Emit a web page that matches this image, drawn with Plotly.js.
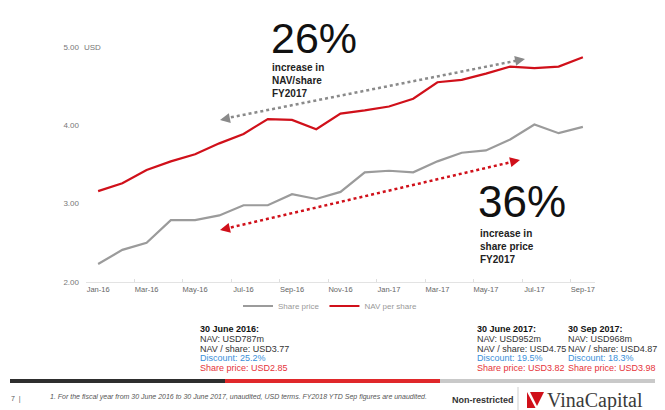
<!DOCTYPE html>
<html><head><meta charset="utf-8">
<script src="https://cdn.plot.ly/plotly-3.0.1.min.js"></script>
<style>html,body{margin:0;padding:0;background:#fff;} #chart{width:665px;height:410px;}</style>
</head><body><div id="chart"></div>
<script>
// ---- data ----
const months = ['Jan-16','Feb-16','Mar-16','Apr-16','May-16','Jun-16','Jul-16','Aug-16','Sep-16','Oct-16','Nov-16','Dec-16','Jan-17','Feb-17','Mar-17','Apr-17','May-17','Jun-17','Jul-17','Aug-17','Sep-17'];
const sharePrice = [2.23,2.41,2.50,2.79,2.79,2.85,2.98,2.98,3.12,3.06,3.15,3.40,3.42,3.40,3.54,3.65,3.68,3.82,4.01,3.90,3.98];
const navPerShare = [3.16,3.26,3.43,3.54,3.63,3.77,3.89,4.08,4.07,3.95,4.15,4.19,4.24,4.34,4.55,4.58,4.66,4.75,4.73,4.75,4.87];
const xTickLabels = ['Jan-16','Mar-16','May-16','Jul-16','Sep-16','Nov-16','Jan-17','Mar-17','May-17','Jul-17','Sep-17'];
const yTickVals = [2,3,4,5];
const seriesNames = ['Share price','NAV per share'];
const navGrowth = '26%';
const priceGrowth = '36%';
const navGrowthText = ['increase in','NAV/share','FY2017'];
const priceGrowthText = ['increase in','share price','FY2017'];
const block2016 = ['30 June 2016:','NAV: USD787m','NAV / share: USD3.77','Discount: 25.2%','Share price: USD2.85'];
const block2017 = ['30 June 2017:','NAV: USD952m','NAV / share: USD4.75','Discount: 19.5%','Share price: USD3.82'];
const blockSep17 = ['30 Sep 2017:','NAV: USD968m','NAV / share: USD4.87','Discount: 18.3%','Share price: USD3.98'];
const footnote = '1. For the fiscal year from 30 June 2016 to 30 June 2017, unaudited, USD terms. FY2018 YTD Sep figures are unaudited.';

// ---- layout helpers (pixel -> paper) ----
const L = 86, R = 595, T = 47, B = 282;
const px = x => (x - L) / (R - L);
const py = y => (B - y) / (B - T);
const FONT = 'Liberation Sans, Arial, Helvetica, sans-serif';

const traces = [
  {x: months, y: sharePrice, name: seriesNames[0], type: 'scatter', mode: 'lines',
   line: {color: '#9b9b9b', width: 2.2}},
  {x: months, y: navPerShare, name: seriesNames[1], type: 'scatter', mode: 'lines',
   line: {color: '#d0101a', width: 2.2}}
];

const ann = [];
function txt(x, y, text, size, color, extra) {
  ann.push(Object.assign({xref: 'paper', yref: 'paper', x: px(x), y: py(y), text: text,
    showarrow: false, xanchor: 'left', yanchor: 'middle', align: 'left',
    font: {family: FONT, size: size, color: color}}, extra || {}));
}
function head(x, y, ax, ay, color) {
  ann.push({xref: 'paper', yref: 'paper', x: px(x), y: py(y), text: '', showarrow: true,
    arrowhead: 2, arrowsize: 1, arrowwidth: 2, arrowcolor: color, ax: ax, ay: ay, standoff: 0});
}

txt(82, 47, 'USD', 8, '#777');
txt(269, 38, navGrowth, 43, '#111');
txt(270, 80, navGrowthText.map(s => '<b>' + s + '</b>').join('<br>'), 10, '#222');
txt(476, 201, priceGrowth, 44, '#111');
txt(478, 246, priceGrowthText.map(s => '<b>' + s + '</b>').join('<br>'), 10, '#222');

const lineYs = [329, 339, 348.5, 358.3, 368.2];
const lineColors = ['#111', '#333', '#333', '#3a8fd9', '#e5333a'];
[[block2016, 198], [block2017, 475], [blockSep17, 566]].forEach(([blk, x0]) => {
  blk.forEach((s, i) => txt(x0, lineYs[i], i === 0 ? '<b>' + s + '</b>' : s, 9, lineColors[i]));
});

txt(9, 399, '7  |', 7, '#555');
txt(48, 397, '<i>' + footnote + '</i>', 7, '#555');
txt(450, 400, '<b>Non-restricted</b>', 9, '#333');
ann.push({xref: 'paper', yref: 'paper', x: px(545), y: py(400), text: 'VinaCapital', showarrow: false,
  xanchor: 'left', yanchor: 'middle', font: {family: 'Liberation Serif, Times New Roman, serif', size: 20, color: '#3a3a3a'}});

// arrowheads
head(525, 59, -10, 2, '#8a8a8a');
head(220, 120, 10, -2, '#8a8a8a');
head(520, 160, -10, 2.3, '#d0101a');
head(220, 230, 10, -2.3, '#d0101a');

const shapes = [
  {type: 'line', xref: 'paper', yref: 'paper', x0: px(225), y0: py(118.5), x1: px(520), y1: py(60),
   line: {color: '#8a8a8a', width: 2.5, dash: 'dot'}},
  {type: 'line', xref: 'paper', yref: 'paper', x0: px(225), y0: py(228.8), x1: px(515), y1: py(161.2),
   line: {color: '#d0101a', width: 2.5, dash: 'dot'}},
  {type: 'rect', xref: 'paper', yref: 'paper', x0: px(10), x1: px(225), y0: py(383), y1: py(379),
   line: {width: 0}, fillcolor: '#2e2e2e'},
  {type: 'rect', xref: 'paper', yref: 'paper', x0: px(225), x1: px(440), y0: py(383), y1: py(379),
   line: {width: 0}, fillcolor: '#e0282a'},
  {type: 'rect', xref: 'paper', yref: 'paper', x0: px(440), x1: px(655), y0: py(383), y1: py(379),
   line: {width: 0}, fillcolor: '#c9c9c9'},
  {type: 'line', xref: 'paper', yref: 'paper', x0: px(518), x1: px(518), y0: py(387), y1: py(410),
   line: {color: '#cfcfcf', width: 1}},
  {type: 'path', xref: 'paper', yref: 'paper',
   path: 'M' + px(527) + ',' + py(392) + ' L' + px(535.5) + ',' + py(408) + ' L' + px(527) + ',' + py(408) + ' Z',
   line: {width: 0}, fillcolor: '#d0101a'},
  {type: 'path', xref: 'paper', yref: 'paper',
   path: 'M' + px(530) + ',' + py(392) + ' L' + px(544) + ',' + py(392) + ' L' + px(537) + ',' + py(406) + ' Z',
   line: {width: 0}, fillcolor: '#d0101a'}
];

const layout = {
  width: 665, height: 410,
  margin: {l: L, r: 665 - R, t: T, b: 410 - B, pad: 0},
  paper_bgcolor: '#fff', plot_bgcolor: '#fff',
  font: {family: FONT},
  showlegend: true,
  legend: {orientation: 'h', x: px(238), y: py(306), xanchor: 'left', yanchor: 'middle', itemgap: 5,
    font: {family: FONT, size: 8, color: '#999'}, bgcolor: 'rgba(0,0,0,0)', traceorder: 'normal'},
  xaxis: {type: 'category', categoryorder: 'array', categoryarray: months, range: [-0.5, 20.5],
    tickmode: 'array', tickvals: xTickLabels, ticktext: xTickLabels, tickson: 'boundaries', tickangle: 0,
    ticks: 'inside', ticklen: 3, tickcolor: '#dedede', showline: true, linecolor: '#e3e3e3', linewidth: 1,
    showgrid: false, zeroline: false, tickfont: {family: FONT, size: 7.5, color: '#666'}, fixedrange: true},
  yaxis: {range: [2, 5], tickmode: 'array', tickvals: yTickVals, tickformat: '.2f', ticks: '',
    showline: false, showgrid: false, zeroline: false, ticklabelstandoff: 6,
    tickfont: {family: FONT, size: 8, color: '#777'}, fixedrange: true},
  annotations: ann,
  shapes: shapes
};

Plotly.newPlot('chart', traces, layout, {displayModeBar: false, staticPlot: true});
</script>
</body></html>
